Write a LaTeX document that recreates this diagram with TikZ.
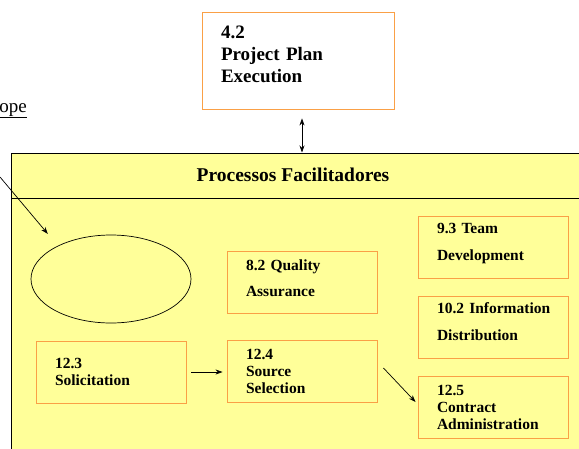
\documentclass[tikz,border=0pt]{standalone}
\usepackage{fontspec}
\setmainfont{Liberation Serif}
\usetikzlibrary{shapes.geometric,arrows.meta,calc}
\definecolor{fy}{RGB}{255,255,153}
\definecolor{ob}{RGB}{250,160,70}
\begin{document}
\begin{tikzpicture}[x=1pt,y=-1pt,
  box/.style={draw=ob, line width=0.9pt, fill=fy, rectangle, align=left,
    text width=112pt, inner xsep=19pt, inner ysep=0pt,
    minimum width=150pt, minimum height=62pt,
    font=\fontsize{15.5}{17}\selectfont\bfseries},
  conn/.style={line width=0.7pt, -{Stealth[length=7pt,width=5pt]}},
  dconn/.style={line width=0.7pt, {Stealth[length=7pt,width=5pt]}-{Stealth[length=7pt,width=5pt]}}]
\path[use as bounding box] (0,0) rectangle (579,448);
\clip (0,0) rectangle (579,448);
% main container
\draw[fill=fy, line width=1pt] (11,198) rectangle (600,470);
\node[draw, fill=fy, line width=1pt, rectangle, minimum width=589pt, minimum height=45pt,
  inner sep=0pt] (band) at (305.5,175.5) {};
\node[font=\fontsize{19.5}{22}\selectfont\bfseries] (title) at (293,175) {Processos Facilitadores};
% top box
\node[draw=ob, line width=0.9pt, fill=white, rectangle, align=left,
  text width=154pt, inner xsep=19pt, inner ysep=0pt, minimum width=192pt, minimum height=97pt,
  text depth=57pt, font=\fontsize{19}{22}\selectfont\bfseries] (pp) at (298,60.5)
  {4.2\\Project Plan\\Execution};
% scope text
\node[anchor=base east, inner sep=0pt, font=\fontsize{19}{20}\selectfont] (scope) at (27,112) {\underline{ope}};
\coordinate (sfree) at (0,177);
% ellipse
\node[draw, ellipse, line width=0.7pt, minimum width=160pt, minimum height=88pt, inner sep=0pt] (el) at (111,279) {};
% process boxes
\node[box, text depth=34pt] (qa) at (302,282.5) {8.2 Quality\\[9pt]Assurance};
\node[box] (sol) at (111,372) {12.3\\Solicitation};
\node[box] (ss) at (302,371) {12.4\\Source\\Selection};
\node[box, text depth=37.5pt] (td) at (493,247) {9.3 Team\\[10pt]Development};
\node[box, text depth=38pt] (id) at (493,327) {\mbox{10.2 Information}\\[10pt]Distribution};
\node[box] (ca) at (493,407) {12.5\\Contract\\Administration};
% connectors
\draw[dconn, shorten <=9pt] ([xshift=4pt]pp.south) -- ([xshift=4pt]pp.south |- band.north);
\draw[conn, shorten >=15.5pt] (sfree) -- (el.148.6);
\draw[conn, shorten <=5pt, shorten >=4pt] (sol.east) -- (sol.east -| ss.west);
\draw[conn] ([shift={(6,-3)}]ss.east) -- ([shift={(-2,-5)}]ca.west);
\end{tikzpicture}
\end{document}
